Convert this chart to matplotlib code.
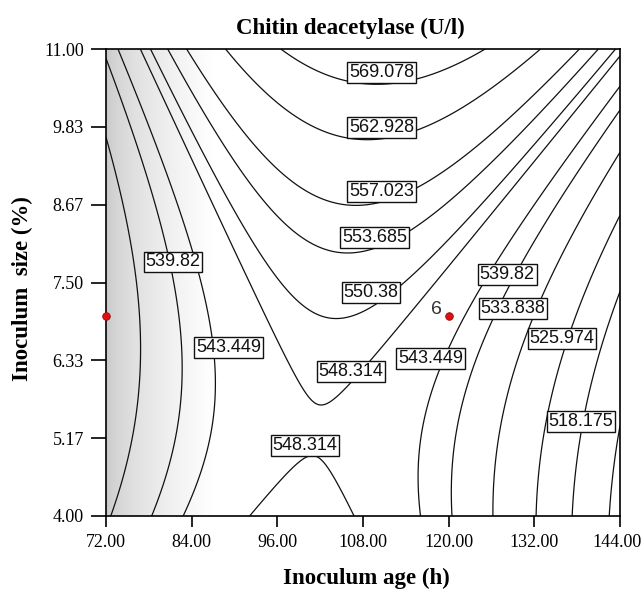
import numpy as np
import matplotlib
matplotlib.use("Agg")
import matplotlib.pyplot as plt
from matplotlib.transforms import ScaledTranslation

# ---- data -------------------------------------------------------------
# factor ranges (actual units)
age_range = [72.0, 144.0]        # Inoculum age (h)
size_range = [4.0, 11.0]         # Inoculum size (%)
age_ticks = [72, 84, 96, 108, 120, 132, 144]
size_ticks = [4.00, 5.17, 6.33, 7.50, 8.67, 9.83, 11.00]

# quadratic response-surface model in coded units (A = age, B = size)
b0 = 551.83
bA = -4.53
bB = 12.75
bAA = -28.3
bBB = 8.80
bAB = 8.94

# contour levels (U/l)
levels = [509.0, 518.175, 525.974, 533.838, 539.82, 543.449, 548.314,
          550.38, 553.685, 557.023, 562.928, 569.078]

# contour labels: text, age, size
label_text = ["569.078", "562.928", "557.023", "553.685", "550.38", "539.82",
              "543.449", "548.314", "543.449", "548.314", "539.82", "533.838",
              "525.974", "518.175"]
label_age = [110.6, 110.6, 110.6, 109.6, 109.1, 81.4,
             89.2, 106.3, 117.45, 99.9, 128.2, 129.0,
             135.9, 138.5]
label_size = [10.65, 9.82, 8.86, 8.17, 7.35, 7.81,
              6.53, 6.17, 6.36, 5.06, 7.62, 7.11,
              6.66, 5.42]

# design points
pt_age = [72.0, 120.0]
pt_size = [7.0, 7.0]
pt_count = ["", "6"]

# ---- figure -----------------------------------------------------------
fig = plt.figure(figsize=(6.44, 5.92), dpi=100)
ax = fig.add_axes([106/644, 1-516/592, 514/644, 467/592])

a = np.linspace(age_range[0], age_range[1], 400)
s = np.linspace(size_range[0], size_range[1], 400)
AA, SS = np.meshgrid(a, s)
xc = (AA - 108.0) / 36.0
yc = (SS - 7.5) / 3.5
Z = b0 + bA*xc + bB*yc + bAA*xc**2 + bBB*yc**2 + bAB*xc*yc

# soft grey shading at the left edge
t = np.linspace(0, 1, 200)
shade = 0.78 + 0.22*np.clip(t, 0, 1)**0.6
img = np.repeat(np.stack([shade, shade, shade], axis=-1)[None, :, :], 2, axis=0)
ax.imshow(img, extent=[72, 87, 4, 11], aspect='auto', zorder=0,
          interpolation='bilinear')

ax.contour(AA, SS, Z, levels=levels, colors='#111111', linewidths=0.9, zorder=2)

for txt, xa, ys in zip(label_text, label_age, label_size):
    ax.text(xa, ys, txt, ha='center', va='center', fontsize=13,
            family='Liberation Sans', color='#111111', zorder=4,
            bbox=dict(boxstyle='square,pad=0.1', fc='white', ec='#111111', lw=1.0))

ax.scatter(pt_age, pt_size, s=30, c='#e01010', edgecolors='#901010',
           linewidths=0.6, zorder=5, clip_on=False)
for xa, ys, c in zip(pt_age, pt_size, pt_count):
    if c:
        ax.text(xa - 1.0, ys - 0.03, c, ha='right', va='bottom', fontsize=14,
                family='Liberation Sans', color='#333333', zorder=5)

ax.set_xlim(age_range)
ax.set_ylim(size_range)
ax.set_xticks(age_ticks)
ax.set_yticks(np.linspace(size_range[0], size_range[1], 7))
ax.set_xticklabels([f"{v:.2f}" for v in age_ticks])
ax.set_yticklabels([f"{v:.2f}" for v in size_ticks])
for lab in ax.get_xticklabels() + ax.get_yticklabels():
    lab.set_family('Liberation Serif')
    lab.set_fontsize(13)
ax.tick_params(axis='x', direction='out', length=8, width=1.2, pad=5)
ax.tick_params(axis='y', direction='out', length=11, width=1.2, pad=5)
for sp in ax.spines.values():
    sp.set_linewidth(1.2)
# keep the last x tick label inside the figure
last = ax.get_xticklabels()[-1]
last.set_transform(last.get_transform() + ScaledTranslation(-3/100, 0, fig.dpi_scale_trans))

fig.text(350/644, 1-28/592, "Chitin deacetylase (U/l)", ha='center', va='center',
         fontsize=16.5, fontweight='bold', family='Liberation Serif')
fig.text(366/644, 1-578/592, "Inoculum age (h)", ha='center', va='center',
         fontsize=16.5, fontweight='bold', family='Liberation Serif')
fig.text(22/644, 1-289/592, "Inoculum  size (%)", ha='center', va='center',
         rotation=90, fontsize=16.5, fontweight='bold', family='Liberation Serif')

fig.savefig("out.png", dpi=100)
